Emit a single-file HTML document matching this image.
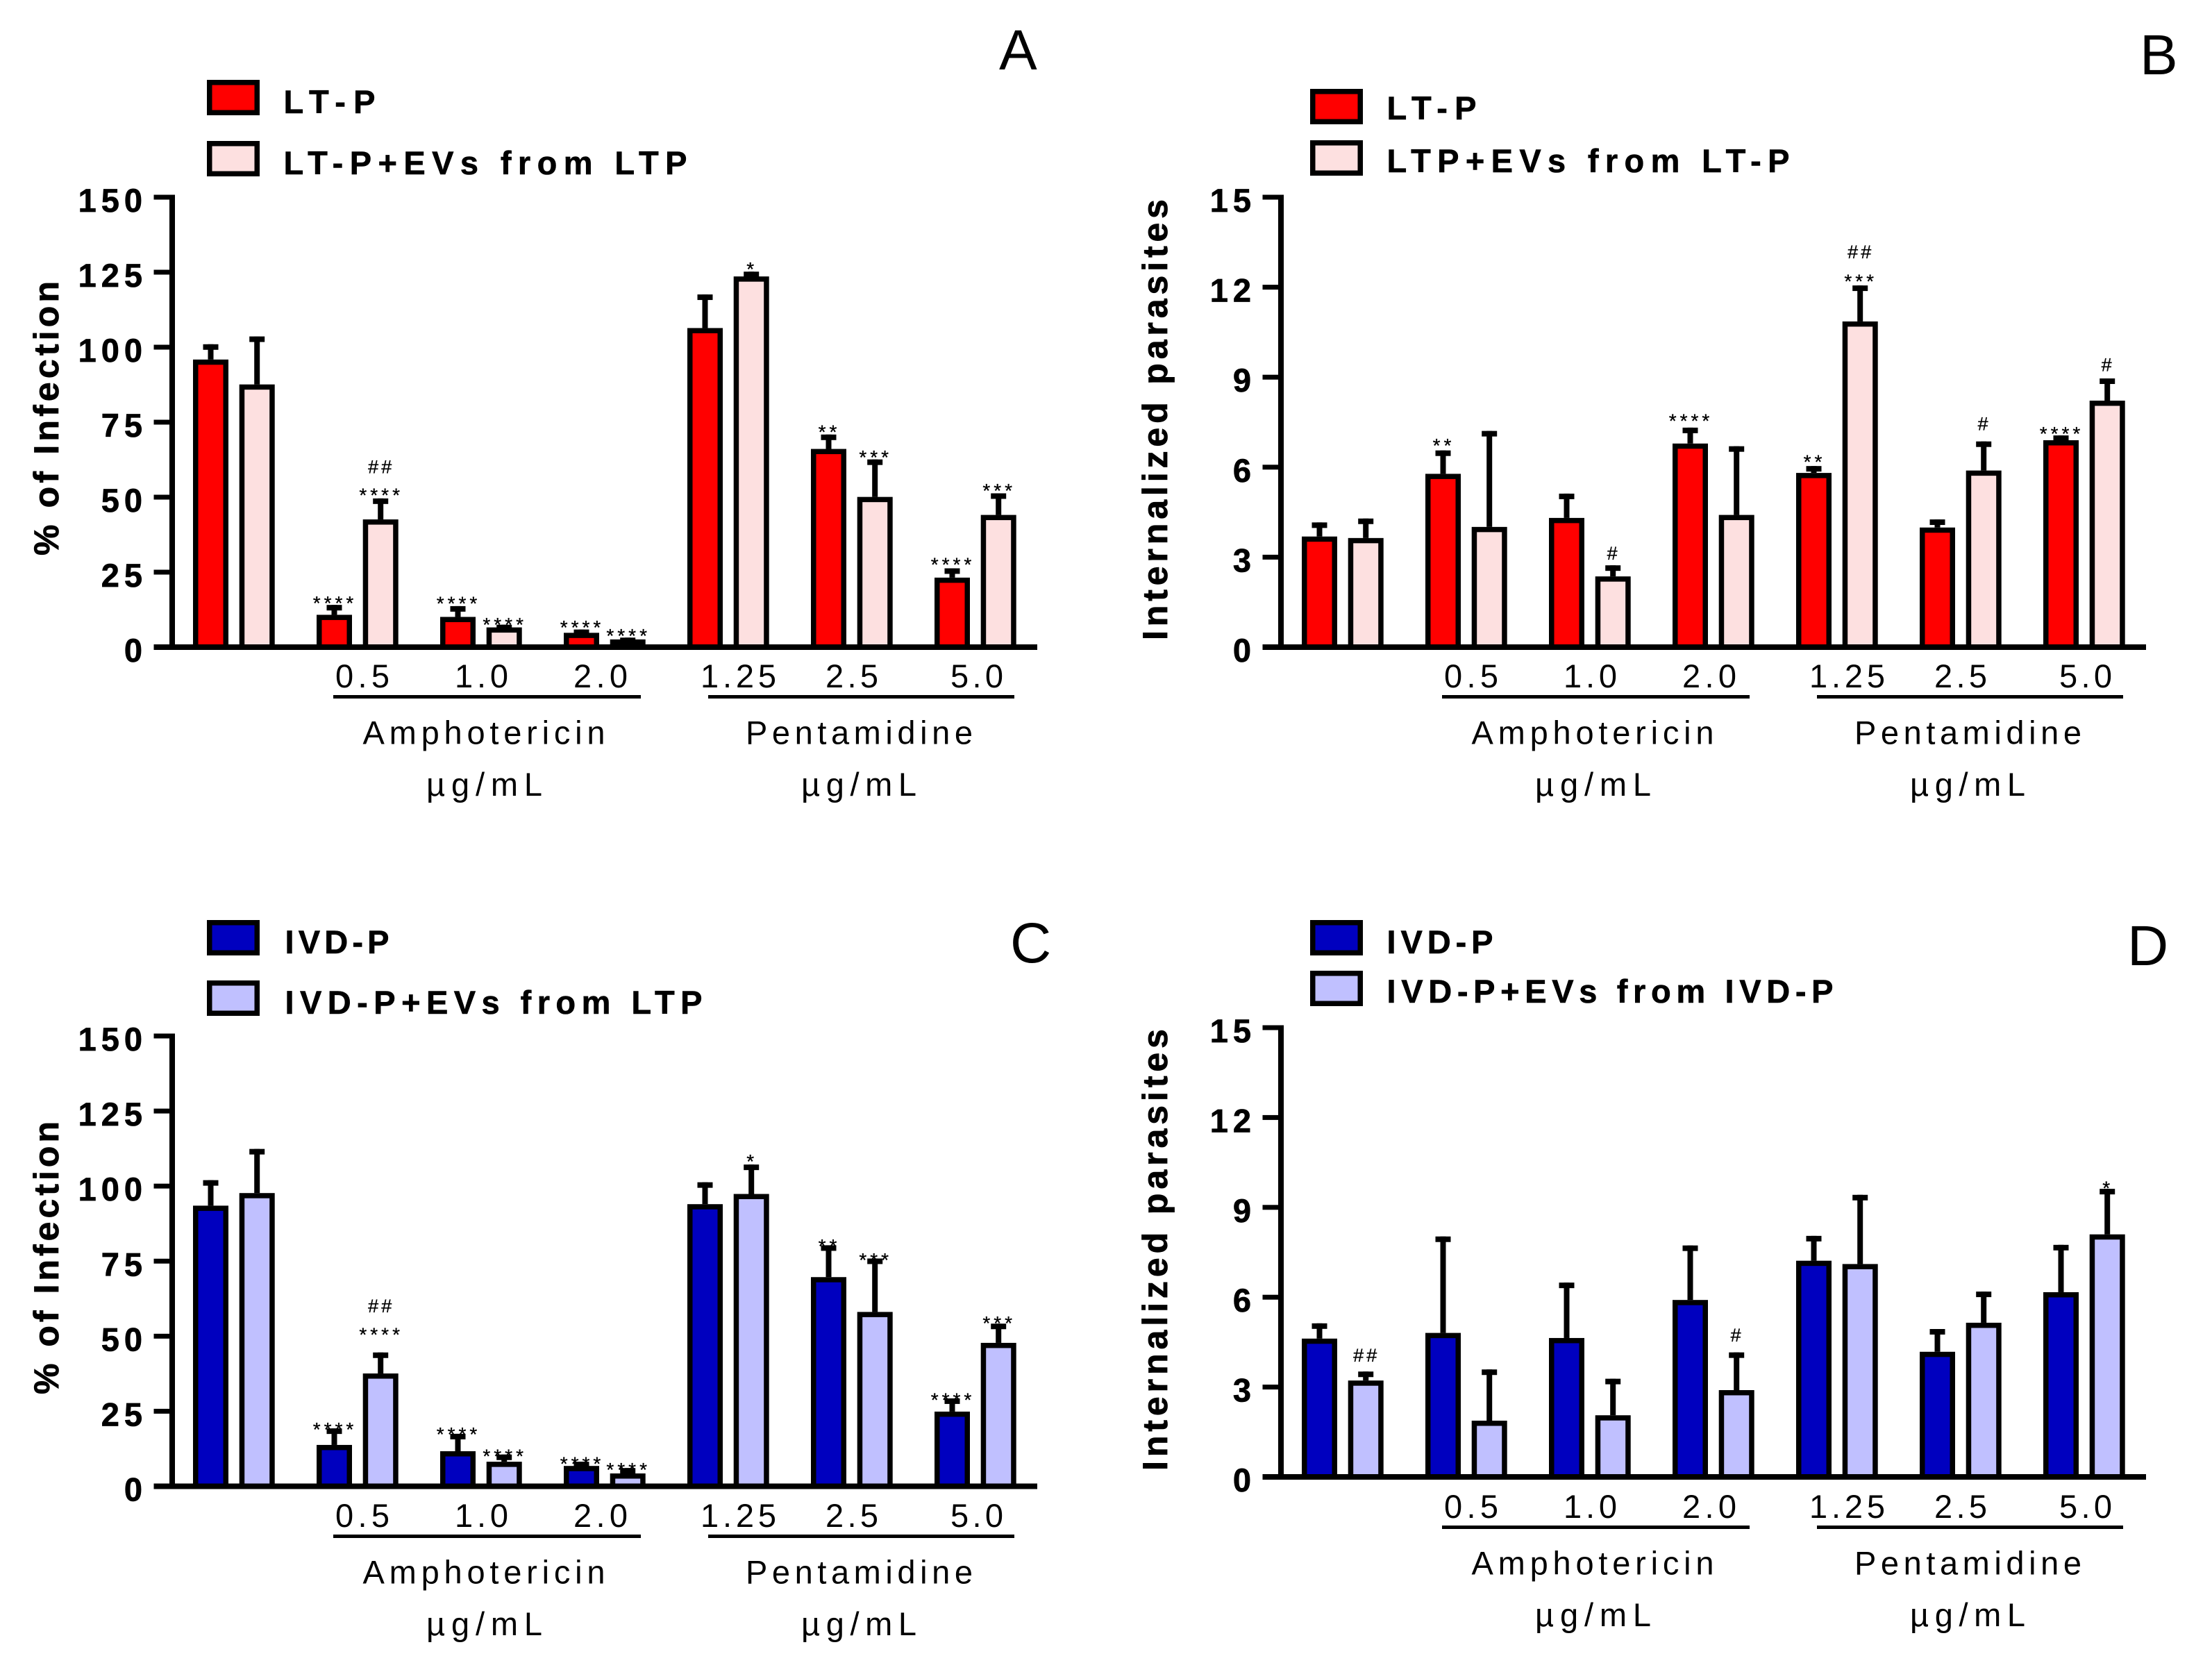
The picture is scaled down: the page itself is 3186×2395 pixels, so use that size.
<!DOCTYPE html>
<html>
<head>
<meta charset="utf-8">
<title>Infection and internalized parasites by treatment</title>
<style>
html,body{margin:0;padding:0;background:#fff;width:3186px;height:2395px;overflow:hidden}
svg{display:block;font-family:"Liberation Sans",Arial,sans-serif}
</style>
</head>
<body>
<svg id="figure" xmlns="http://www.w3.org/2000/svg" width="3186" height="2395" viewBox="0 0 3186 2395"></svg>
<script>
// Panel A
const aRed = [95.3, 10.2, 9.5, 4.2, 105.8, 65.5, 22.6];
const aRedUpper = [100.4, 13.5, 13.1, 5.3, 117, 70.3, 25.7];
const aPink = [87, 42, 6, 2, 123, 49.5, 43.5];
const aPinkUpper = [103, 49, 6.9, 2.6, 124.6, 62, 50.7];
const aRedSig = [[1,'****',2.7],[2,'****',3],[3,'****',2.8],[5,'**',3],[6,'****',3.4]];
const aPinkSig = [[1,'****',3.2],[1,'##',11.3],[2,'****',2.1],[3,'****',2.7],[4,'*',3],[5,'***',2.8],[6,'***',3]];
// Panel B
const bRed = [3.63, 5.72, 4.25, 6.73, 5.75, 3.93, 6.84];
const bRedUpper = [4.1, 6.5, 5.06, 7.26, 5.98, 4.2, 7.0];
const bPink = [3.58, 3.95, 2.3, 4.35, 10.8, 5.83, 8.16];
const bPinkUpper = [4.23, 7.15, 2.67, 6.64, 12.0, 6.8, 8.9];
const bRedSig = [[1,'**',0.37],[3,'****',0.44],[4,'**',0.35],[6,'****',0.27]];
const bPinkSig = [[2,'#',0.48],[4,'***',0.35],[4,'##',1.19],[5,'#',0.67],[6,'#',0.53]];
// Panel C
const cBlue = [92.9, 13.2, 11.1, 6.2, 93.4, 69.1, 24.3];
const cBlueUpper = [101.4, 18.7, 16.9, 7.6, 100.7, 79.7, 28.7];
const cLav = [97.1, 37, 7.6, 3.7, 96.8, 57.5, 47.2];
const cLavUpper = [111.8, 44, 10, 5.5, 106.6, 75.3, 53.6];
const cBlueSig = [[1,'****',1.8],[2,'****',1.9],[3,'****',1.4],[5,'**',1.8],[6,'****',1.6]];
const cLavSig = [[1,'****',8.1],[1,'##',16.2],[2,'****',1.6],[3,'****',1.6],[4,'*',3.2],[5,'***',1.6],[6,'***',2.3]];
// Panel D
const dBlue = [4.56, 4.75, 4.58, 5.85, 7.16, 4.12, 6.11];
const dBlueUpper = [5.07, 7.97, 6.43, 7.67, 7.99, 4.88, 7.69];
const dLav = [3.16, 1.82, 2.0, 2.84, 7.05, 5.09, 8.04];
const dLavUpper = [3.46, 3.53, 3.22, 4.1, 9.36, 6.13, 9.56];
const dBlueSig = [];
const dLavSig = [[0,'##',0.62],[3,'#',0.65],[6,'*',0.23]];
// Axis tick labels
const percentTicks = [0, 25, 50, 75, 100, 125, 150];
const parasiteTicks = [0, 3, 6, 9, 12, 15];
// Dose labels
const amphotericinDoses = ['0.5', '1.0', '2.0'];
const pentamidineDoses = ['1.25', '2.5', '5.0'];

const NS = 'http://www.w3.org/2000/svg';
const svg = document.getElementById('figure');
const RED = '#FF0000', PINK = '#FDE0E0', BLUE = '#0000BF', LAV = '#C0C0FF';

function make(parent, tag, attrs, name) {
  const el = document.createElementNS(NS, tag);
  for (const k in attrs) el.setAttribute(k, attrs[k]);
  
  
  parent.appendChild(el);
  return el;
}
function label(parent, str, attrs, name) {
  const el = make(parent, 'text', attrs, name);
  el.textContent = str;
  return el;
}

function drawPanel(p) {
  const g = make(svg, 'g', {}, 'panel-' + p.id);
  const axisMax = p.ticks[p.ticks.length - 1];
  const y = v => p.base - (v / axisMax) * (p.base - p.top);
  const my = v => y(v) - 2.5;
  const bx = (group, series) => p.dx + 303.5 + group * 178 + series * 66.7;
  const T = p.textDy;

  // bars and error bars
  p.series.forEach((s, si) => {
    const sg = make(g, 'g', {}, 'series-' + s.key);
    s.values.forEach((v, i) => {
      const cx = bx(i, si);
      const top = my(s.upper[i]);
      make(sg, 'rect', {x: cx - 4, y: top, width: 8, height: Math.max(0, my(v) - top), fill: '#000'}, 'error-stem-' + s.key + '-' + i);
      make(sg, 'rect', {x: cx - 11, y: top, width: 22, height: 8, fill: '#000'}, 'error-cap-' + s.key + '-' + i);
      make(sg, 'rect', {x: cx - 21.75, y: my(v) + 3.75, width: 43.5, height: Math.max(0, p.base - my(v) - 3.75), fill: s.color, stroke: '#000', 'stroke-width': 7.5}, 'bar-' + s.key + '-' + i);
    });
    s.sig.forEach(a => {
      const isHash = a[1].indexOf('#') >= 0;
      const cy = y(s.upper[a[0]] + a[2]);
      label(sg, a[1], {
        x: bx(a[0], si) + 1,
        y: cy + (isHash ? 10 : 16),
        'text-anchor': 'middle',
        'font-size': isHash ? 27 : 28,
        'letter-spacing': isHash ? 4 : 5,
        stroke: '#000',
        'stroke-width': 0.3
      }, 'significance-' + s.key + '-' + a[0]);
    });
  });

  // axes
  const xa = p.dx + 248;
  make(g, 'rect', {x: xa - 4, y: p.top - 3.5, width: 8, height: p.base - p.top + 7, fill: '#000'}, 'y-axis-line');
  make(g, 'rect', {x: p.dx + 221.5, y: p.base - 4, width: 1272.5, height: 8, fill: '#000'}, 'x-axis-line');
  p.ticks.forEach(t => {
    make(g, 'rect', {x: p.dx + 221.5, y: y(t) - 3.5, width: 26, height: 7, fill: '#000'}, 'y-tick-' + t);
    label(g, String(t), {
      x: p.dx + 205 + 7, y: y(t) + 21,
      'text-anchor': 'end', 'font-size': 47, 'font-weight': 'bold', 'letter-spacing': 7,
      stroke: '#000', 'stroke-width': 0.7
    }, 'y-tick-label-' + t);
  });

  // y title
  label(g, p.title, {
    transform: 'translate(' + (p.dx + 84) + ',' + p.titleBottom + ') rotate(-90)',
    x: 0, y: 0, 'font-size': 50, 'font-weight': 'bold',
    stroke: '#000', 'stroke-width': 0.8,
    textLength: p.titleLen, lengthAdjust: 'spacing'
  }, 'y-axis-title');

  // dose labels
  const doseX = [483, 655, 826];
  const doseW = [78, 77, 78];
  amphotericinDoses.forEach((d, i) => {
    label(g, d, {x: p.dx + doseX[i], y: 990 + T, 'font-size': 47, textLength: doseW[i], lengthAdjust: 'spacing'}, 'dose-label-amphotericin-' + d);
  });
  const doseX2 = [1009, 1189, 1369];
  const doseW2 = [109, 76, 76];
  pentamidineDoses.forEach((d, i) => {
    label(g, d, {x: p.dx + doseX2[i], y: 990 + T, 'font-size': 47, textLength: doseW2[i], lengthAdjust: 'spacing'}, 'dose-label-pentamidine-' + d);
  });

  // group brackets
  make(g, 'rect', {x: p.dx + 480, y: 1001 + T, width: 443, height: 5, fill: '#000'}, 'amphotericin-underline');
  make(g, 'rect', {x: p.dx + 1020, y: 1001 + T, width: 441, height: 5, fill: '#000'}, 'pentamidine-underline');

  label(g, 'Amphotericin', {x: p.dx + 522.5, y: 1071.5 + T, 'font-size': 47, textLength: 349, lengthAdjust: 'spacing'}, 'amphotericin-label');
  label(g, 'Pentamidine', {x: p.dx + 1074, y: 1071.5 + T, 'font-size': 47, textLength: 327, lengthAdjust: 'spacing'}, 'pentamidine-label');
  label(g, 'µg/mL', {x: p.dx + 614, y: 1146 + T, 'font-size': 47, textLength: 167, lengthAdjust: 'spacing'}, 'amphotericin-unit');
  label(g, 'µg/mL', {x: p.dx + 1154, y: 1146 + T, 'font-size': 47, textLength: 166, lengthAdjust: 'spacing'}, 'pentamidine-unit');

  // legend
  p.legend.forEach((l, i) => {
    const lg = make(g, 'g', {}, 'legend-entry-' + (i + 1));
    make(lg, 'rect', {x: l.sx + 3.75, y: l.sy + 3.75, width: 68.5, height: 43.5, fill: p.series[i].color, stroke: '#000', 'stroke-width': 7.5}, 'legend-swatch-' + (i + 1));
    label(lg, l.text, {x: l.tx - 1.5, y: l.ty - 1, 'font-size': 47, 'font-weight': 'bold', stroke: '#000', 'stroke-width': 0.6, textLength: l.tw, lengthAdjust: 'spacing'}, 'legend-label-' + (i + 1));
  });

  // panel letter
  label(g, p.id, {x: p.letterX, y: p.letterY, 'font-size': 82}, 'panel-letter-' + p.id);
}

drawPanel({
  id: 'A', dx: 0, base: 932, top: 284, textDy: 0, ticks: percentTicks,
  title: '% of Infection', titleBottom: 800, titleLen: 395,
  letterX: 1439, letterY: 100,
  series: [
    {key: 'lt-p', color: RED, values: aRed, upper: aRedUpper, sig: aRedSig},
    {key: 'lt-p-evs', color: PINK, values: aPink, upper: aPinkUpper, sig: aPinkSig}
  ],
  legend: [
    {sx: 298, sy: 115, text: 'LT-P', tx: 410, ty: 164, tw: 132},
    {sx: 298, sy: 203, text: 'LT-P+EVs from LTP', tx: 410, ty: 252, tw: 581}
  ]
});
drawPanel({
  id: 'B', dx: 1597, base: 932, top: 284, textDy: 0, ticks: parasiteTicks,
  title: 'Internalized parasites', titleBottom: 922, titleLen: 635,
  letterX: 3082, letterY: 107,
  series: [
    {key: 'lt-p', color: RED, values: bRed, upper: bRedUpper, sig: bRedSig},
    {key: 'ltp-evs', color: PINK, values: bPink, upper: bPinkUpper, sig: bPinkSig}
  ],
  legend: [
    {sx: 1887, sy: 128, text: 'LT-P', tx: 1999, ty: 173, tw: 129},
    {sx: 1887, sy: 202, text: 'LTP+EVs from LT-P', tx: 1999, ty: 249, tw: 580}
  ]
});
drawPanel({
  id: 'C', dx: 0, base: 2140.5, top: 1492, textDy: 1209, ticks: percentTicks,
  title: '% of Infection', titleBottom: 2008, titleLen: 393,
  letterX: 1455, letterY: 1386,
  series: [
    {key: 'ivd-p', color: BLUE, values: cBlue, upper: cBlueUpper, sig: cBlueSig},
    {key: 'ivd-p-evs', color: LAV, values: cLav, upper: cLavUpper, sig: cLavSig}
  ],
  legend: [
    {sx: 298, sy: 1325, text: 'IVD-P', tx: 412, ty: 1374, tw: 150},
    {sx: 298, sy: 1412, text: 'IVD-P+EVs from LTP', tx: 412, ty: 1461, tw: 601}
  ]
});
drawPanel({
  id: 'D', dx: 1597, base: 2127, top: 1480, textDy: 1196, ticks: parasiteTicks,
  title: 'Internalized parasites', titleBottom: 2118, titleLen: 636,
  letterX: 3064, letterY: 1390,
  series: [
    {key: 'ivd-p', color: BLUE, values: dBlue, upper: dBlueUpper, sig: dBlueSig},
    {key: 'ivd-p-evs', color: LAV, values: dLav, upper: dLavUpper, sig: dLavSig}
  ],
  legend: [
    {sx: 1887, sy: 1325, text: 'IVD-P', tx: 1999, ty: 1374, tw: 153},
    {sx: 1887, sy: 1398, text: 'IVD-P+EVs from IVD-P', tx: 1999, ty: 1445, tw: 643}
  ]
});
</script>
</body>
</html>
